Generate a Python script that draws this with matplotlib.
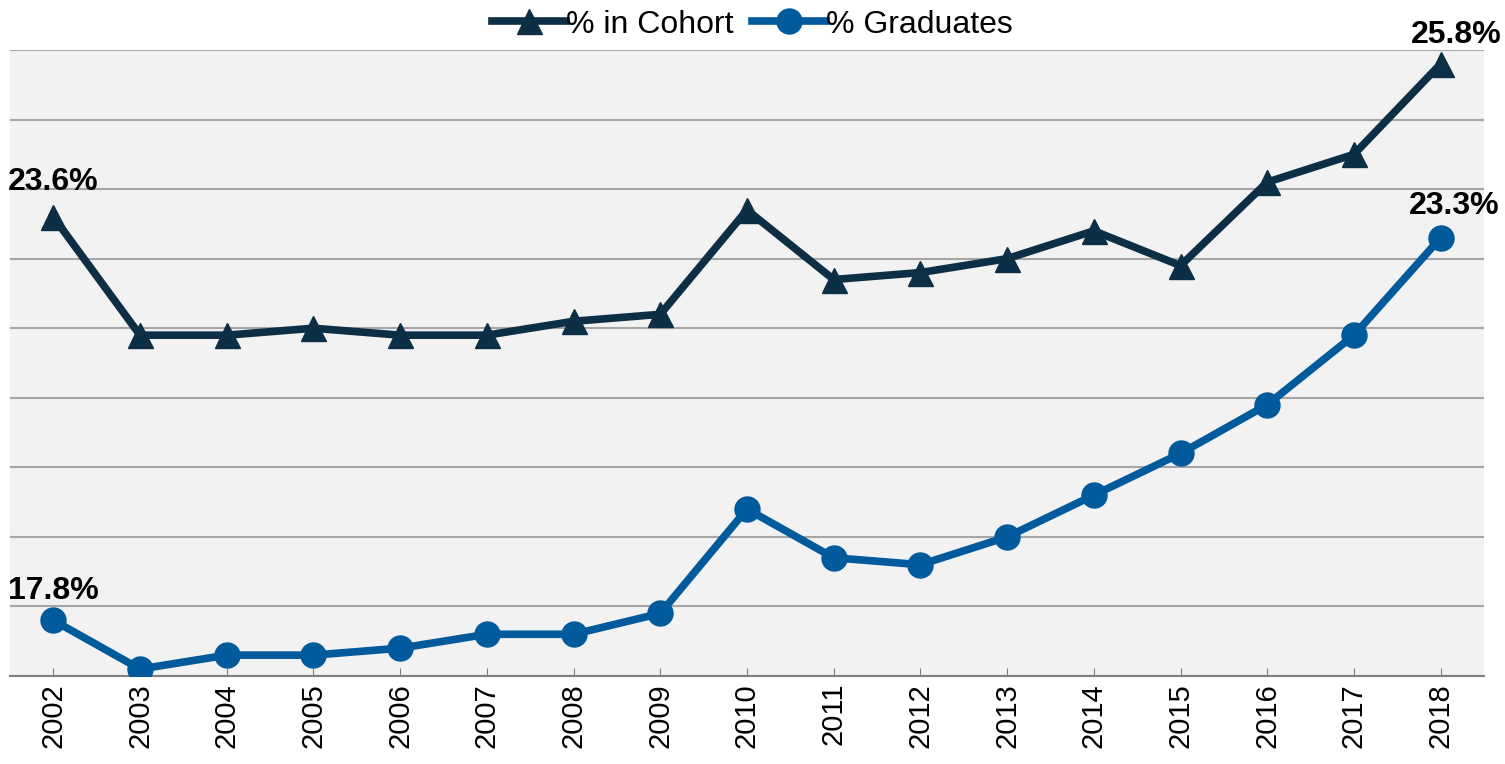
import matplotlib.pyplot as plt
from matplotlib.lines import Line2D

plt.rcParams['font.family'] = ['Liberation Sans', 'DejaVu Sans']

years = ['2002', '2003', '2004', '2005', '2006', '2007', '2008', '2009', '2010',
         '2011', '2012', '2013', '2014', '2015', '2016', '2017', '2018']
cohort = [23.6, 21.9, 21.9, 22.0, 21.9, 21.9, 22.1, 22.2, 23.7,
          22.7, 22.8, 23.0, 23.4, 22.9, 24.1, 24.5, 25.8]
graduates = [17.8, 17.1, 17.3, 17.3, 17.4, 17.6, 17.6, 17.9, 19.4,
             18.7, 18.6, 19.0, 19.6, 20.2, 20.9, 21.9, 23.3]

c_cohort = '#0D2F45'
c_grad = '#005A9C'

fig = plt.figure(figsize=(15.05, 7.64), dpi=100)
ax = fig.add_axes([10 / 1505, 1 - 676 / 764, 1474 / 1505, 626 / 764])
ax.set_facecolor('#F2F2F2')

x = list(range(len(years)))
ax.plot(x, cohort, color=c_cohort, lw=5.5, marker='^', ms=18, zorder=3)
ax.plot(x, graduates, color=c_grad, lw=5.5, marker='o', ms=18, zorder=3)

ax.set_xlim(-0.5, len(years) - 0.5)
ax.set_ylim(17, 26)
ax.set_yticks(range(17, 27))
ax.yaxis.grid(True, color='#A6A6A6', lw=1.5)
ax.set_axisbelow(True)
ax.tick_params(axis='y', left=False, labelleft=False)
ax.set_xticks(x)
ax.set_xticklabels(years, rotation=90, fontsize=21)
ax.tick_params(axis='x', direction='in', length=6, color='#808080', pad=5)
for s in ['top', 'left', 'right']:
    ax.spines[s].set_visible(False)
ax.spines['bottom'].set_color('#808080')
ax.spines['bottom'].set_linewidth(1.5)

lbl = dict(fontsize=23, fontweight='bold', ha='center', va='bottom', textcoords='offset points')
ax.annotate(f'{cohort[0]}%', (0, cohort[0]), xytext=(0, 14), **lbl)
ax.annotate(f'{cohort[-1]}%', (16, cohort[-1]), xytext=(11, 10), **lbl)
ax.annotate(f'{graduates[0]}%', (0, graduates[0]), xytext=(0, 10), **lbl)
ax.annotate(f'{graduates[-1]}%', (16, graduates[-1]), xytext=(10, 12), **lbl)

handles = [Line2D([], [], color=c_cohort, lw=5.5, marker='^', ms=18),
           Line2D([], [], color=c_grad, lw=5.5, marker='o', ms=18)]
fig.legend(handles, ['% in Cohort', '% Graduates'], loc='upper center',
           bbox_to_anchor=(0.5, 1.025), ncol=2, frameon=False, fontsize=23,
           handlelength=2.3, handletextpad=0.0, columnspacing=0.6)

fig.savefig('out.png', dpi=100)
